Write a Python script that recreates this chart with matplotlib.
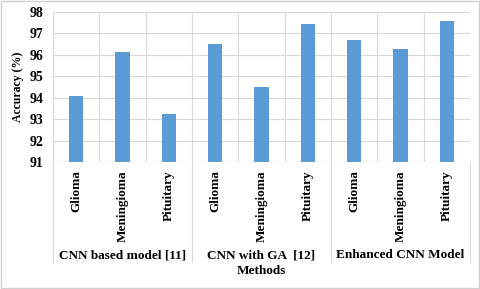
import matplotlib.pyplot as plt
import numpy as np
from matplotlib.patches import Rectangle

# Data
groups = ["CNN based model [11]", "CNN with GA  [12]", "Enhanced CNN Model"]
tumours = ["Glioma", "Meningioma", "Pituitary"]
accuracy = [
    [94.06, 96.13, 93.22],
    [96.50, 94.48, 97.42],
    [96.69, 96.26, 97.60],
]

plt.rcParams['font.family'] = 'Liberation Serif'

fig = plt.figure(figsize=(4.8, 2.89), dpi=100)
ax = fig.add_axes([53/480, 1 - 162/289, 417/480, 150/289])

vals = [v for row in accuracy for v in row]
labels = tumours * len(groups)
x = np.arange(len(vals))
ax.bar(x, np.array(vals) - 91, bottom=91, width=0.31, color='#5B9BD5', zorder=3)

ax.set_xlim(-0.5, len(vals) - 0.5)
ax.set_ylim(91, 98)
ax.set_yticks(np.arange(91, 99))
ax.set_yticklabels(np.arange(91, 99), fontsize=10, fontweight='bold')
ax.set_xticks(x)
ax.set_xticklabels(labels, rotation=90, fontsize=9.5, fontweight='bold', va='top')
ax.set_xticks(np.arange(-0.5, len(vals)), minor=True)
ax.tick_params(axis='y', which='both', length=0, pad=7)
ax.tick_params(axis='x', which='both', length=0, pad=6)

ax.grid(axis='y', color='#d9d9d9', linewidth=0.8, zorder=0)
ax.grid(axis='x', which='minor', color='#d9d9d9', linewidth=0.8, zorder=0)
for s in ax.spines.values():
    s.set_visible(False)
ax.axhline(91, color='#d9d9d9', linewidth=0.8, zorder=1)

# group separators down into the label area
for gx in [-0.5, 2.5, 5.5, 8.5]:
    ax.plot([gx, gx], [0, -0.667], color='#d9d9d9', linewidth=0.8,
            transform=ax.get_xaxis_transform(), clip_on=False)

for i, g in enumerate(groups):
    ax.text(3 * i + 1, -0.62, g, transform=ax.get_xaxis_transform(),
            ha='center', va='center', fontsize=9.5, fontweight='bold')

ax.set_ylabel('Accuracy (%)', fontsize=8.5, fontweight='bold', labelpad=4)
fig.text((53 + 470) / 2 / 480, 1 - 271/289, 'Methods', ha='center', va='center',
         fontsize=9.5, fontweight='bold')

fig.patches.append(Rectangle((0.002, 0.003), 0.996, 0.994, transform=fig.transFigure,
                             fill=False, edgecolor='#d0d0d0', linewidth=1))

plt.savefig('out.png', dpi=100)
plt.close()
